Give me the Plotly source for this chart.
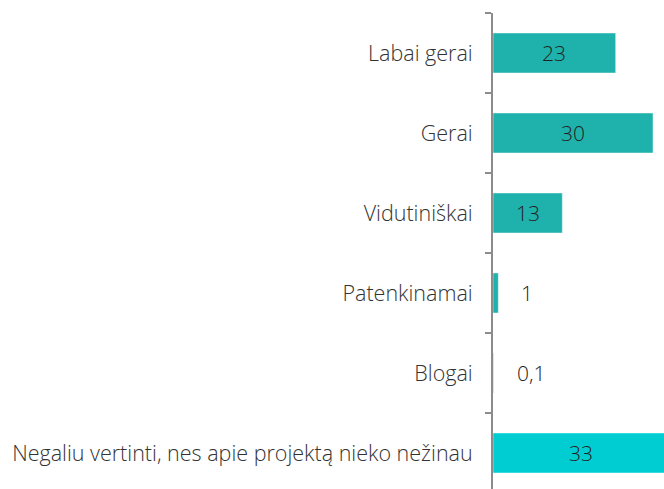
import plotly.graph_objects as go

categories = ["Labai gerai", "Gerai", "Vidutiniškai", "Patenkinamai", "Blogai",
              "Negaliu vertinti, nes apie projektą nieko nežinau"]
values = [23, 30, 13, 1, 0.1, 33]
bar_colors = ["#1FB2AC", "#1FB2AC", "#1FB2AC", "#1FB2AC", "#1FB2AC", "#00CDD2"]

labels = [str(v).replace(".", ",") for v in values]

font_family = "Open Sans"
text_color = "#333333"

fig = go.Figure()
fig.add_trace(go.Bar(
    y=categories, x=values, orientation="h",
    marker=dict(color=bar_colors, line=dict(color="rgba(255,255,255,0.45)", width=1)),
    width=0.5,
    hoverinfo="skip",
))

label_font = dict(family=font_family, size=21, color="#222222", weight=300)
annotations = []
for c, v, t in zip(categories, values, labels):
    if v >= 5:
        annotations.append(dict(x=v / 2, y=c, xref="x", yref="y", text=t, showarrow=False,
                                xanchor="center", yanchor="middle", font=label_font))
    else:
        annotations.append(dict(x=v, y=c, xref="x", yref="y", text=t, showarrow=False,
                                xanchor="left", yanchor="middle", xshift=21, font=label_font))

fig.update_layout(
    width=664, height=489,
    margin=dict(l=493, r=0, t=13, b=0),
    paper_bgcolor="white", plot_bgcolor="white",
    showlegend=False,
    annotations=annotations,
    xaxis=dict(range=[0, 32.06], visible=False, fixedrange=True),
    yaxis=dict(
        categoryorder="array", categoryarray=categories,
        range=[5.45, -0.5],
        showline=True, linecolor="#8c8c8c", linewidth=2,
        ticks="outside", ticklen=6, tickwidth=2, tickcolor="#8c8c8c",
        tickson="boundaries", ticklabelstandoff=14,
        showgrid=False, zeroline=False,
        tickfont=dict(family=font_family, size=21.5, color=text_color, weight=300),
    ),
)

fig.write_html(
    "out.html",
    config={"displayModeBar": False, "staticPlot": True},
    post_script="document.body.style.margin='0';document.body.style.overflow='hidden';",
)
